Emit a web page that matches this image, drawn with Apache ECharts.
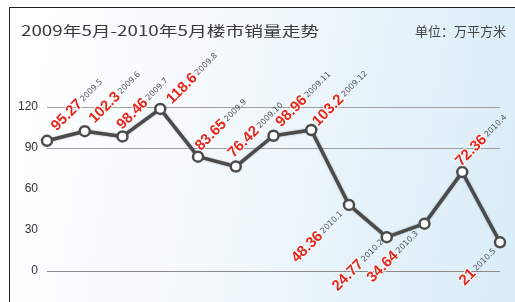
<!DOCTYPE html>
<html>
<head>
<meta charset="utf-8">
<script src="https://cdn.jsdelivr.net/npm/echarts@6/dist/echarts.min.js"></script>
<style>
  html, body { margin: 0; padding: 0; background: #fff; }
  #frame {
    position: absolute; left: 9px; top: 7px; width: 506px; height: 295px;
    border-top: 1.5px solid #222; border-left: 1.5px solid #222;
    background: linear-gradient(100deg, #ffffff 0%, #f6fafd 35%, #d9ecf7 100%);
  }
  #chart { position: absolute; left: -9px; top: -7px; width: 515px; height: 302px; }
</style>
</head>
<body>
<div id="frame"><div id="chart"></div></div>
<script>
// 2009年5月 - 2010年5月
const months = ['2009.5', '2009.6', '2009.7', '2009.8', '2009.9', '2009.10', '2009.11',
  '2009.12', '2010.1', '2010.2', '2010.3', '2010.4', '2010.5']
const sales = [95.27, 102.3, 98.46, 118.6, 83.65, 76.42, 98.96, 103.2, 48.36, 24.77, 34.64, 72.36, 21]
const yTicks = [0, 30, 60, 90, 120]

// label nudges (px) from the point centre, as laid out in the original
const labelShift = [[8, -11], [8, -9], [-2, -8], [10, -6], [1, -7], [-4, -10], [6, -10],
  [5, -5], [-6, 9], [-3, 5], [-6, 10], [-3, -7], [-4, 9]]

const chart = echarts.init(document.getElementById('chart'), null, { renderer: 'canvas' })

function labelFor(v, i) {
  const below = v < 50
  const s = labelShift[i]
  return {
    position: [5 + s[0], 5 + s[1]],
    align: below ? 'right' : 'left',
    verticalAlign: 'middle'
  }
}

chart.setOption({
  backgroundColor: 'transparent',
  animation: false,
  graphic: [
    {
      type: 'text',
      left: 20,
      top: 23,
      scaleX: 1.34,
      style: {
        text: '2009年5月-2010年5月楼市销量走势',
        font: '14px "Noto Sans CJK SC", sans-serif',
        fill: '#3a3a3a'
      }
    },
    {
      type: 'text',
      right: 10,
      top: 24,
      style: {
        text: '单位：万平方米',
        font: '13px "Noto Sans CJK SC", sans-serif',
        fill: '#444'
      }
    }
  ],
  grid: {
    left: 46,
    right: 16,
    top: 106,
    bottom: 32
  },
  xAxis: {
    type: 'category',
    data: months,
    boundaryGap: false,
    axisLine: { show: false },
    axisTick: { show: false },
    axisLabel: { show: false }
  },
  yAxis: {
    type: 'value',
    min: yTicks[0],
    max: yTicks[yTicks.length - 1],
    interval: 30,
    axisLine: { show: false },
    axisTick: { show: false },
    axisLabel: {
      margin: 9,
      color: '#333',
      fontSize: 12,
      fontFamily: 'Liberation Sans, Arial, sans-serif'
    },
    splitLine: {
      lineStyle: {
        color: ['#8a8a8a', 'rgba(0,0,0,0)', 'rgba(0,0,0,0)', '#a0a0a0', '#a0a0a0'],
        width: 1
      }
    }
  },
  series: [{
    type: 'line',
    data: sales.map((v, i) => ({
      value: v,
      label: labelFor(v, i)
    })),
    symbol: 'circle',
    symbolSize: 10,
    lineStyle: {
      color: '#4b4b4b',
      width: 3.5,
      shadowColor: 'rgba(0,0,0,0.35)',
      shadowBlur: 2
    },
    itemStyle: {
      color: '#fff',
      borderColor: '#4b4b4b',
      borderWidth: 2.5
    },
    label: {
      show: true,
      rotate: 45,
      formatter: p => '{v|' + p.value + '}{d|' + months[p.dataIndex] + '}',
      rich: {
        v: {
          color: '#e5281d',
          fontSize: 15,
          fontWeight: 'bold',
          fontFamily: 'Liberation Sans, Arial, sans-serif',
          textBorderColor: 'rgba(255,255,255,0.85)',
          textBorderWidth: 2
        },
        d: {
          color: '#555',
          fontSize: 8,
          padding: [0, 0, 0, 2],
          fontFamily: 'DejaVu Sans, sans-serif'
        }
      }
    }
  }]
})
</script>
</body>
</html>
